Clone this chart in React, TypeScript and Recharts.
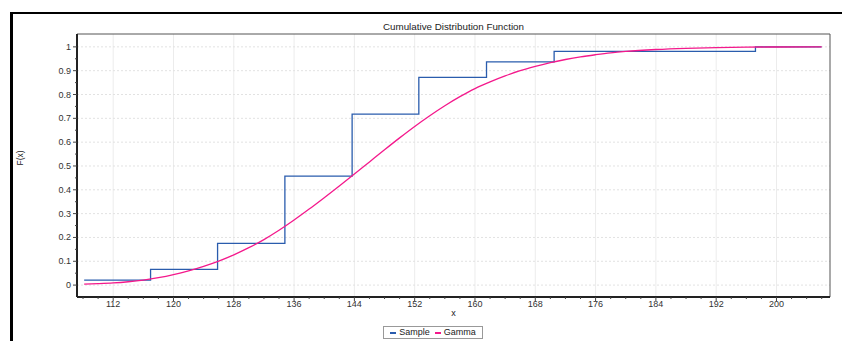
import { LineChart, Line, XAxis, YAxis, CartesianGrid, ReferenceLine } from "recharts";

// empirical CDF (step positions and levels)
const SAMPLE_X = [108.15, 116.96, 125.85, 134.78, 143.7, 152.55, 161.53, 170.5, 197.21, 205.97];
const SAMPLE_F = [0.021, 0.066, 0.175, 0.457, 0.718, 0.872, 0.937, 0.981, 1.0, 1.0];

// fitted gamma CDF
const GAMMA_X = [
  108.15, 110, 112, 114, 116, 118, 120, 122, 124, 126, 128, 130, 132, 134, 136, 138, 140, 142, 144,
  146, 148, 150, 152, 154, 156, 158, 160, 162, 164, 166, 168, 170, 172, 174, 176, 178, 180, 184, 188,
  192, 196, 200, 206,
];
const GAMMA_F = [
  0.004, 0.006, 0.009, 0.014, 0.021, 0.031, 0.044, 0.06, 0.079, 0.101, 0.127, 0.157, 0.191, 0.23,
  0.273, 0.319, 0.367, 0.416, 0.466, 0.517, 0.568, 0.618, 0.666, 0.711, 0.753, 0.791, 0.825, 0.853,
  0.878, 0.9, 0.918, 0.934, 0.947, 0.958, 0.967, 0.975, 0.981, 0.989, 0.994, 0.997, 0.999, 0.9995, 1.0,
];

const X_TICKS = [
  108, 110, 112, 114, 116, 118, 120, 122, 124, 126, 128, 130, 132, 134, 136, 138, 140, 142, 144, 146,
  148, 150, 152, 154, 156, 158, 160, 162, 164, 166, 168, 170, 172, 174, 176, 178, 180, 182, 184, 186,
  188, 190, 192, 194, 196, 198, 200, 202, 204, 206,
];
const X_LABELS = [112, 120, 128, 136, 144, 152, 160, 168, 176, 184, 192, 200];
const Y_TICKS = [
  0, 0.05, 0.1, 0.15, 0.2, 0.25, 0.3, 0.35, 0.4, 0.45, 0.5, 0.55, 0.6, 0.65, 0.7, 0.75, 0.8, 0.85,
  0.9, 0.95, 1,
];
const Y_LABELS = [0, 0.1, 0.2, 0.3, 0.4, 0.5, 0.6, 0.7, 0.8, 0.9, 1];

const X_DOMAIN: [number, number] = [107.2, 207.1];
const Y_DOMAIN: [number, number] = [-0.05, 1.054];

const sample = SAMPLE_X.map((x, i) => ({ x, f: SAMPLE_F[i] }));
const gamma = GAMMA_X.map((x, i) => ({ x, f: GAMMA_F[i] }));

const FONT = "'Liberation Sans', Arial, sans-serif";
const BLUE = "#2a5cad";
const PINK = "#f4198c";

const XTick = (props: any) => {
  const { x, y, payload } = props;
  const major = X_LABELS.includes(payload.value);
  return (
    <g>
      <line x1={x} x2={x} y1={y} y2={y + (major ? 4 : 2)} stroke="#444" />
      {major && (
        <text x={x} y={y + 10} textAnchor="middle" fontSize={9} fill="#333" fontFamily={FONT}>
          {payload.value}
        </text>
      )}
    </g>
  );
};

const YTick = (props: any) => {
  const { x, y, payload } = props;
  const major = Y_LABELS.some((v) => Math.abs(v - payload.value) < 1e-6);
  return (
    <g>
      <line x1={x - (major ? 4 : 2)} x2={x} y1={y} y2={y} stroke="#444" />
      {major && (
        <text x={x - 6} y={y + 3} textAnchor="end" fontSize={9} fill="#333" fontFamily={FONT}>
          {payload.value}
        </text>
      )}
    </g>
  );
};

export default function App() {
  return (
    <div
      style={{
        position: "absolute",
        left: 0,
        top: 0,
        width: 842,
        height: 341,
        overflow: "hidden",
        background: "#fff",
        fontFamily: FONT,
      }}
    >
      <div
        style={{
          position: "absolute",
          left: 10,
          top: 12,
          width: 900,
          height: 400,
          borderLeft: "3px solid #000",
          borderTop: "2px solid #000",
        }}
      />
      <div
        style={{
          position: "absolute",
          left: 77,
          width: 753,
          top: 21,
          textAlign: "center",
          fontSize: 9.8,
          color: "#222",
        }}
      >
        Cumulative Distribution Function
      </div>
      <div style={{ position: "absolute", left: 0, top: 0 }}>
        <LineChart width={842} height={341} margin={{ top: 34, right: 12, left: 0, bottom: 0 }}>
          <CartesianGrid
            horizontal={false}
            verticalValues={X_LABELS}
            stroke="#ececec"
          />
          <CartesianGrid
            vertical={false}
            horizontalValues={Y_LABELS}
            stroke="#e2e2e2"
            strokeDasharray="2 2"
          />
          <XAxis
            type="number"
            dataKey="x"
            domain={X_DOMAIN}
            ticks={X_TICKS}
            interval={0}
            allowDataOverflow
            height={44}
            tickSize={0}
            tickMargin={0}
            tick={<XTick />}
            axisLine={{ stroke: "#222", strokeWidth: 2 }}
            label={{ value: "x", position: "insideBottom", offset: 25, fontSize: 9, fill: "#222" }}
          />
          <YAxis
            type="number"
            dataKey="f"
            domain={Y_DOMAIN}
            ticks={Y_TICKS}
            interval={0}
            allowDataOverflow
            width={77}
            tickSize={0}
            tickMargin={0}
            tick={<YTick />}
            axisLine={{ stroke: "#222", strokeWidth: 2 }}
            label={{
              value: "F(x)",
              angle: -90,
              position: "insideLeft",
              offset: 20,
              fontSize: 8.5,
              fill: "#222",
            }}
          />
          <ReferenceLine y={Y_DOMAIN[1]} stroke="#555" />
          <ReferenceLine x={X_DOMAIN[1]} stroke="#555" />
          <Line
            data={sample}
            dataKey="f"
            type="stepAfter"
            stroke={BLUE}
            strokeWidth={1.3}
            dot={false}
            isAnimationActive={false}
          />
          <Line
            data={gamma}
            dataKey="f"
            type="monotone"
            stroke={PINK}
            strokeWidth={1.3}
            dot={false}
            isAnimationActive={false}
          />
        </LineChart>
      </div>
      <div
        style={{
          position: "absolute",
          left: 383,
          top: 326,
          width: 98,
          height: 11,
          border: "1px solid #999",
          fontSize: 9,
          lineHeight: "11px",
          color: "#222",
          display: "flex",
          alignItems: "center",
          justifyContent: "center",
          gap: 3,
          whiteSpace: "nowrap",
        }}
      >
        <span style={{ display: "inline-block", width: 6, height: 2, background: BLUE }} />
        <span>Sample</span>
        <span style={{ display: "inline-block", width: 6, height: 2, background: PINK, marginLeft: 2 }} />
        <span>Gamma</span>
      </div>
    </div>
  );
}
